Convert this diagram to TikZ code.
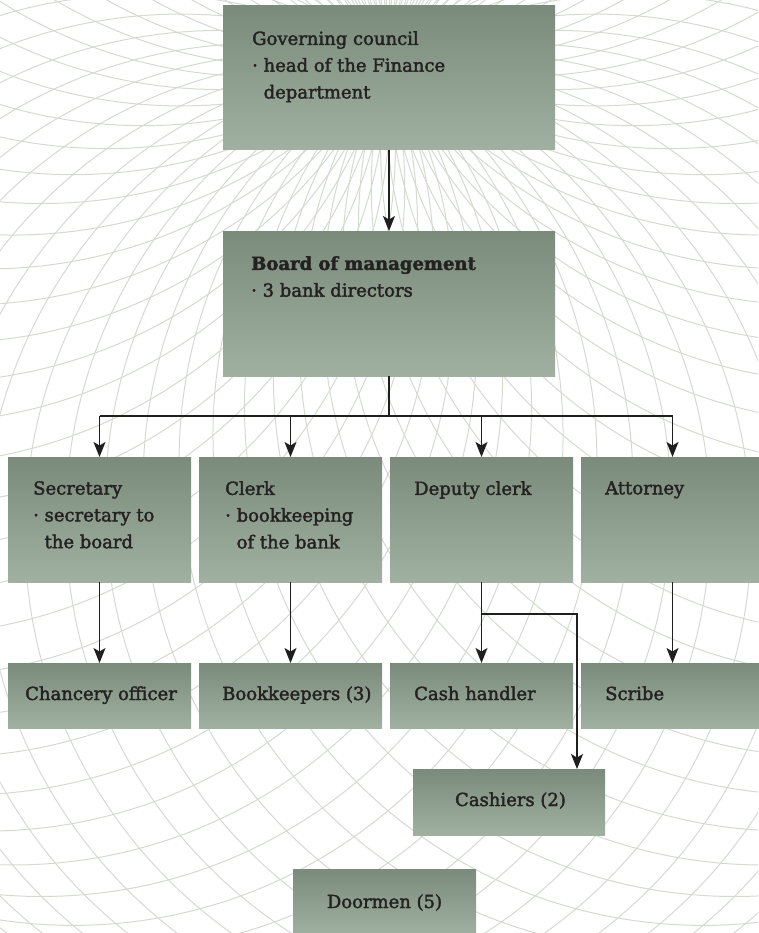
\documentclass[tikz,border=0pt]{standalone}
\usepackage{fontspec}
\setmainfont{DejaVu Serif}[RawFeature={embolden=2}]
\usetikzlibrary{arrows.meta,calc}
\definecolor{boxtop}{RGB}{122,139,123}
\definecolor{boxbot}{RGB}{161,177,161}
\definecolor{guil}{RGB}{212,218,210}
\definecolor{txt}{RGB}{36,34,32}
\begin{document}
\begin{tikzpicture}[x=1pt,y=-1pt,
  box/.style={draw=none, top color=boxtop, bottom color=boxbot, minimum width=183pt, minimum height=125pt, anchor=north west, inner sep=0pt, outer sep=0pt},
  lbl/.style={anchor=north west, inner sep=0pt, align=left, text=txt, font=\fontsize{18}{26.8}\selectfont},
  conn/.style={draw=black!88, line width=1.2pt},
  arr/.style={conn, -{Stealth[length=15pt,width=12pt,inset=3.5pt]}},
  guilline/.style={guil, line width=1pt}]
\useasboundingbox (0,0) rectangle (758,933);
\begin{scope}
  \clip (0,0) rectangle (758,933);
  \foreach \a in {0,5,...,355}{
    \draw[guilline] ($(388,60)+(\a:490pt)$) circle[radius=490pt];
  }
\end{scope}
% level 1 and 2
\node[box, minimum width=332pt, minimum height=144pt] (gov) at (223,6) {};
\node[lbl] (govt) at (252,31) {Governing council\\· head of the Finance\\\phantom{· }department};
\node[box, minimum width=332pt, minimum height=145pt] (board) at (223,231) {};
\node[lbl] (boardt) at (251,256) {\textbf{Board of management}\\· 3 bank directors};
% row 2
\node[box] (sec) at (8,457) {};
\node[box] (clerk) at (199,457) {};
\node[box] (dep) at (390,457) {};
\node[box] (att) at (581,457) {};
\node[lbl] (sect) at (33,481) {Secretary\\· secretary to\\\phantom{· }the board};
\node[lbl] (clerkt) at (225,481) {Clerk\\· bookkeeping\\\phantom{· }of the bank};
\node[lbl] (dept) at (414,481) {Deputy clerk};
\node[lbl] (attt) at (605,481) {Attorney};
% row 3
\node[box, minimum height=65pt] (chan) at (8,663) {};
\node[box, minimum height=65pt] (book) at (199,663) {};
\node[box, minimum height=65pt] (cash) at (390,663) {};
\node[box, minimum height=65pt] (scr) at (581,663) {};
\node[lbl, anchor=base west] (chant) at (25,700) {Chancery officer};
\node[lbl, anchor=base west] (bookt) at (222,700) {Bookkeepers (3)};
\node[lbl, anchor=base west] (casht) at (414,700) {Cash handler};
\node[lbl, anchor=base west] (scrt) at (605,700) {Scribe};
% bottom
\node[box, minimum width=192pt, minimum height=66pt] (cashiers) at (413,769) {};
\node[lbl, anchor=base] (cashierst) at (510.5,806) {Cashiers (2)};
\node[box, minimum height=66pt] (door) at (293,869) {};
\node[lbl, anchor=base] (doort) at (384.5,908) {Doormen (5)};
% connectors
\draw[arr] (gov.south) -- (board.north);
\coordinate (bus) at ($(board.south)+(0,40)$);
\draw[conn] (board.south) -- (bus);
\draw[conn] (sec.north |- bus) -- (att.north |- bus);
\foreach \n in {sec,clerk,dep,att}
  \draw[arr] (\n.north |- bus) -- (\n.north);
\draw[arr] (sec.south) -- (chan.north);
\draw[arr] (clerk.south) -- (book.north);
\draw[arr] (dep.south) -- (cash.north);
\draw[arr] (att.south) -- (scr.north);
\coordinate (split) at ($(dep.south)+(0,32)$);
\coordinate (turn) at (577,614);
\draw[arr] (split) -- (turn) -- (turn |- cashiers.north);
\end{tikzpicture}
\end{document}
